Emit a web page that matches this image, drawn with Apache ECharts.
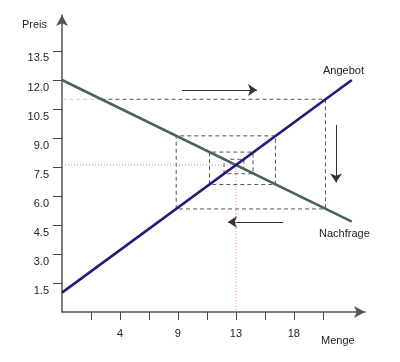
<!DOCTYPE html>
<html>
<head>
<meta charset="utf-8">
<script src="https://cdn.jsdelivr.net/npm/echarts@6/dist/echarts.min.js"></script>
<style>
  html, body { margin: 0; padding: 0; background: #fff; }
  #chart { width: 400px; height: 362px; }
</style>
</head>
<body>
<div id="chart"></div>
<script>
// ---- data ----
const supplyLine = [[0, 1.0], [22, 12.0]];           // Angebot
const demandLine = [[0, 12.0], [22, 4.67]];          // Nachfrage
const cobwebStart = [[0, 11.0], [3.0, 11.0]];        // light dashed part
const cobwebPath = [
  [3.0, 11.0], [20.0, 11.0], [20.0, 5.33], [8.67, 5.33], [8.67, 9.11],
  [16.2, 9.11], [16.2, 6.59], [11.2, 6.59], [11.2, 8.27], [14.5, 8.27],
  [14.5, 7.15], [12.3, 7.15], [12.3, 7.9], [13.8, 7.9], [13.8, 7.4]
];
const equilibrium = [13.2, 7.6];
const arrowRight = [[9.1, 11.48], [14.8, 11.48]];
const arrowDown = [[20.8, 9.67], [20.8, 6.7]];
const arrowLeft = [[16.8, 4.66], [12.6, 4.66]];
const xTickValues = [2.2, 4.4, 6.6, 8.8, 11.0, 13.2, 15.4, 17.6, 19.8];
const xLabelValues = [4.4, 8.8, 13.2, 17.6];
const xLabelTexts = ['4', '9', '13', '18'];
const yTickValues = [1.5, 3.0, 4.5, 6.0, 7.5, 9.0, 10.5, 12.0, 13.5];
const yLabelTexts = ['1.5', '3.0', '4.5', '6.0', '7.5', '9.0', '10.5', '12.0', '13.5'];

const chart = echarts.init(document.getElementById('chart'), null, { renderer: 'canvas' });
const FONT = 'Liberation Sans, Arial, sans-serif';
const dashGray = { color: '#555', width: 1, type: [4, 3] };

chart.setOption({
  animation: false,
  grid: { left: 62, right: 35, top: 15, bottom: 50 },
  xAxis: {
    type: 'value', min: 0, max: 23,
    splitLine: { show: false },
    axisLine: { show: true, symbol: ['none', 'arrow'], symbolSize: [9, 11],
      lineStyle: { color: '#555', width: 1.5 } },
    axisTick: { show: true, length: 8, customValues: xTickValues,
      lineStyle: { color: '#444', width: 1 } },
    axisLabel: { customValues: xLabelValues, margin: 16,
      fontFamily: FONT, fontSize: 11, color: '#222',
      formatter: v => { const i = xLabelValues.findIndex(t => Math.abs(t - v) < 1e-6); return i >= 0 ? xLabelTexts[i] : ''; } }
  },
  yAxis: {
    type: 'value', min: 0, max: 15.36,
    splitLine: { show: false },
    axisLine: { show: true, symbol: ['none', 'arrow'], symbolSize: [9, 11],
      lineStyle: { color: '#555', width: 1.5 } },
    axisTick: { show: true, length: 9, customValues: yTickValues,
      lineStyle: { color: '#444', width: 1 } },
    axisLabel: { customValues: yTickValues, margin: 13, verticalAlign: 'top',
      padding: [2, 0, 0, 0],
      fontFamily: FONT, fontSize: 11, color: '#222',
      formatter: v => { const i = yTickValues.findIndex(t => Math.abs(t - v) < 1e-6); return i >= 0 ? yLabelTexts[i] : ''; } }
  },
  series: [
    { type: 'line', data: cobwebStart, symbol: 'none', silent: true,
      lineStyle: { color: '#ccc', width: 1, type: [4, 3] } },
    { type: 'line', data: cobwebPath, symbol: 'none', silent: true, lineStyle: dashGray },
    { type: 'line', data: [[0, equilibrium[1]], equilibrium, [equilibrium[0], 0]],
      symbol: 'none', silent: true,
      lineStyle: { color: '#ff7070', width: 1, type: [1, 2] } },
    { type: 'line', data: demandLine, symbol: 'none', silent: true,
      lineStyle: { color: '#4a635c', width: 2.6 } },
    { type: 'line', data: supplyLine, symbol: 'none', silent: true,
      lineStyle: { color: '#261a78', width: 2.6 } },
    { type: 'lines', coordinateSystem: 'cartesian2d', silent: true,
      symbol: ['none', 'arrow'], symbolSize: 9,
      lineStyle: { color: '#333', width: 1, opacity: 1, curveness: 0 },
      data: [{ coords: arrowRight }, { coords: arrowDown }, { coords: arrowLeft }] }
  ],
  graphic: [
    { type: 'text', left: 22, top: 19, style: { text: 'Preis', font: '11px ' + FONT, fill: '#222' } },
    { type: 'text', left: 321, top: 335, style: { text: 'Menge', font: '11px ' + FONT, fill: '#222' } },
    { type: 'text', left: 323, top: 65, style: { text: 'Angebot', font: '11px ' + FONT, fill: '#222' } },
    { type: 'text', left: 319, top: 228, style: { text: 'Nachfrage', font: '11px ' + FONT, fill: '#222' } }
  ]
});
</script>
</body>
</html>
